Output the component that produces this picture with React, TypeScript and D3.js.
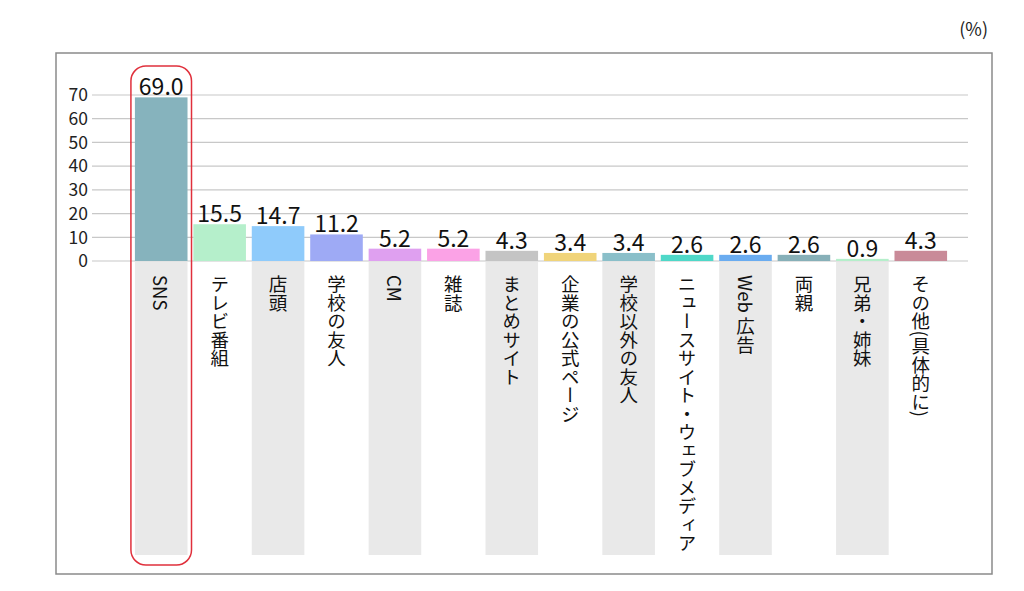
import React from 'react';
import * as d3 from 'd3';

const categories = [
  'SNS', 'テレビ番組', '店頭', '学校の友人', 'CM', '雑誌', 'まとめサイト',
  '企業の公式ページ', '学校以外の友人', 'ニュースサイト・ウェブメディア',
  'Web 広告', '両親', '兄弟・姉妹', 'その他(具体的に)',
];
const values = [69.0, 15.5, 14.7, 11.2, 5.2, 5.2, 4.3, 3.4, 3.4, 2.6, 2.6, 2.6, 0.9, 4.3];
const colors = [
  '#86b3bd', '#b5efcb', '#8fcbfb', '#9eaaf5', '#dfa0f0', '#fba2e6', '#c4c4c4',
  '#f0d47a', '#8abfc9', '#4fd8c8', '#6aacf0', '#87b0b8', '#b5efcb', '#c98a98',
];
const yTicks = [0, 10, 20, 30, 40, 50, 60, 70];

const width = 1024;
const height = 591;
const font = '"Noto Sans CJK JP", "Noto Sans", sans-serif';

const App: React.FC = () => {
  const x = d3.scaleBand<string>()
    .domain(categories)
    .range([132, 950])
    .paddingInner(0.1)
    .paddingOuter(0.05);
  const y = d3.scaleLinear().domain([0, 70]).range([261, 95]);
  const bw = x.bandwidth();
  const first = x(categories[0])!;

  return (
    <svg width={width} height={height} style={{ position: 'absolute', left: 0, top: 0, background: '#fff' }}
      fontFamily={font}>
      <text x={988} y={36} textAnchor="end" fontSize={18} fill="#222">(%)</text>
      <rect x={56} y={53} width={936} height={521} fill="none" stroke="#8a8a8a" strokeWidth={1.5} />

      {/* gray label columns */}
      {categories.map((c, i) => i % 2 === 0 && (
        <rect key={'bg' + c} x={x(c)} y={y(0) + 1} width={bw} height={555 - y(0) - 1} fill="#e9e9e9" />
      ))}

      {/* grid */}
      {yTicks.map(t => (
        <g key={t}>
          <line x1={92} x2={968} y1={y(t)} y2={y(t)} stroke="#c8c8c8" strokeWidth={1.2} />
          <text x={88} y={y(t)} dy="0.36em" textAnchor="end" fontSize={17.5} fill="#222">{t}</text>
        </g>
      ))}

      {/* bars */}
      {categories.map((c, i) => (
        <g key={c}>
          <rect x={x(c)} y={y(values[i])} width={bw} height={y(0) - y(values[i])} fill={colors[i]} />
          <text x={x(c)! + bw / 2} y={y(values[i]) - 2} textAnchor="middle" fontSize={23} fill="#111">
            {values[i].toFixed(1)}
          </text>
          <text x={x(c)! + bw / 2} y={275} fontSize={18.5} fill="#111"
            style={{ writingMode: 'vertical-rl', textOrientation: 'mixed' } as any}>
            {c}
          </text>
        </g>
      ))}

      {/* highlight */}
      <rect x={first - 4} y={66} width={bw + 8} height={499} rx={15} ry={15}
        fill="none" stroke="#e0303c" strokeWidth={1.5} />
    </svg>
  );
};

export default App;
